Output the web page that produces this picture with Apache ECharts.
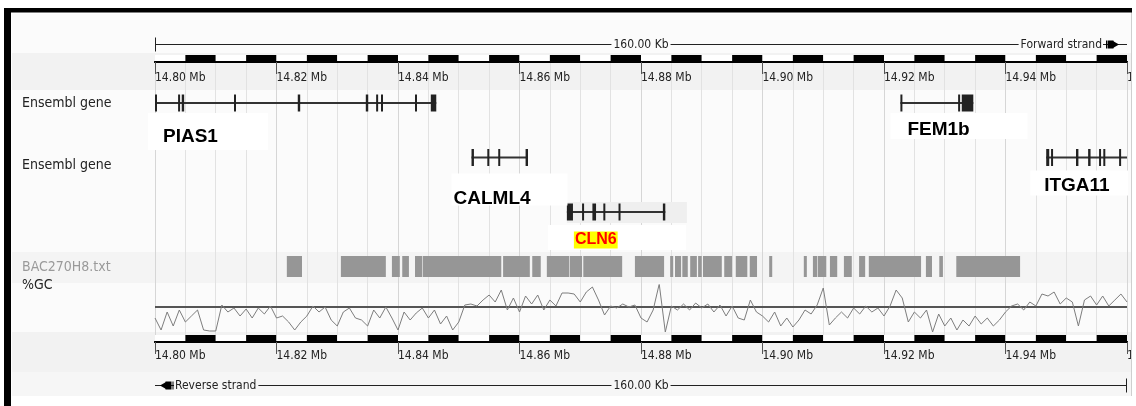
<!DOCTYPE html>
<html><head><meta charset="utf-8">
<script src="https://cdn.jsdelivr.net/npm/echarts@6/dist/echarts.min.js"></script>
<style>html,body{margin:0;padding:0;background:#fff}#c{width:1136px;height:406px}</style>
</head><body><div id="c"></div>
<script>
// ---------------- DATA ----------------
const regionStartMb = 14.80;
const regionEndMb = 14.96;
const tickLabels = ['14.80 Mb','14.82 Mb','14.84 Mb','14.86 Mb','14.88 Mb','14.90 Mb','14.92 Mb','14.94 Mb','14.96 Mb'];
const trackLabels = ['Ensembl gene','Ensembl gene','BAC270H8.txt','%GC'];

const geneNames  = ['PIAS1','FEM1b','CALML4','CLN6','ITGA11'];
const geneRows   = [0, 0, 1, 2, 1];
const geneStarts = [14.8000, 14.9227, 14.8521, 14.8678, 14.9467];
const geneEnds   = [14.8463, 14.9347, 14.8614, 14.8840, 14.9600];
const geneExons = [
  [[14.8000,14.8003],[14.8038,14.8041],[14.8044,14.8048],[14.8130,14.8133],[14.8235,14.8239],[14.8347,14.8351],[14.8364,14.8367],[14.8372,14.8375],[14.8428,14.8431],[14.8454,14.8463]],
  [[14.9227,14.9230],[14.9322,14.9325],[14.9328,14.9347]],
  [[14.8521,14.8525],[14.8547,14.8550],[14.8565,14.8568],[14.8610,14.8614]],
  [[14.8678,14.8688],[14.8703,14.8706],[14.8720,14.8726],[14.8738,14.8741],[14.8763,14.8766],[14.8836,14.8840]],
  [[14.9467,14.9472],[14.9475,14.9478],[14.9516,14.9520],[14.9536,14.9540],[14.9554,14.9557],[14.9561,14.9564],[14.9587,14.9590]]
];

const bacStarts = [14.8217,14.8306,14.8390,14.8407,14.8428,14.8441,14.8573,14.8621,14.8645,14.8683,14.8705,14.8790,14.8848,14.8856,14.8868,14.8881,14.8894,14.8902,14.8937,14.8956,14.8979,14.9011,14.9068,14.9083,14.9091,14.9111,14.9134,14.9159,14.9175,14.9269,14.9291,14.9319];
const bacEnds   = [14.8242,14.8380,14.8403,14.8418,14.8440,14.8570,14.8617,14.8635,14.8682,14.8703,14.8769,14.8838,14.8853,14.8866,14.8877,14.8892,14.8900,14.8933,14.8950,14.8975,14.8991,14.9016,14.9073,14.9090,14.9105,14.9123,14.9147,14.9169,14.9261,14.9279,14.9297,14.9424];

const gcStepKb = 1;
const gcMeanLine = 40;
const gcValues = [
 34.5,28.5,37.5,30.5,38.5,32.5,35.5,38.5,28.5,28,28,41,37.5,39.5,35.5,39,34.5,39.5,36.5,40.5,
 34.5,35.5,32.5,28.5,32.5,35.5,40.5,37.5,40,33.5,30.5,37.5,39.5,34.5,33.5,30.5,38.5,34.5,40,34.5,
 28.5,37.5,33.5,37,39.5,34.5,38.5,31.5,35.5,28.5,32.5,41,41.5,40.5,43.5,46,42.5,48.5,38.5,44.5,
 37.5,45.5,41.5,46,38.5,43.5,40.5,47,47,46.5,42.5,47.5,50,43.5,36,40.5,39.5,41.5,40,41,
 34.5,32.5,38.5,51.5,27.5,40.5,38.5,41.5,38.5,42,39.5,41.5,37.5,41,35.5,40.5,34.5,33.5,43.5,37.5,
 35.5,32.5,37.5,30.5,34.5,30,33.5,38.5,36.5,41,49.5,31,34.5,37.5,34.5,39.5,36.5,40.5,37.5,39.5,
 35.5,40.5,48.5,44.5,32.5,37.5,34.5,38.5,27.5,36.5,30.5,34.5,28.5,33.5,30.5,35.5,31.5,34.5,30.5,33.5,
 37.5,40.5,41.5,38.5,42.5,40.5,46.5,45.5,47.5,41.5,44.5,42.5,30.5,43.5,45.5,41,45.5,40.5,43.5,46.5,
 42.5
];

// ---------------- STYLE / LAYOUT ----------------
const condensed = "'DejaVu Sans Condensed','DejaVu Sans',sans-serif";
const boldSans = "'Liberation Sans',Arial,sans-serif";
const L = 155, R = 9;
const labelLayout = {
  PIAS1:  {box:[-7,10,120,37],  text:[8,34],  size:19},
  FEM1b:  {box:[-10,10,137,26], text:[7,27],  size:19},
  CALML4: {box:[-20,16,116,32], text:[-18,41], size:19},
  CLN6:   {box:[-19,13,138,25], text:[7,28],  size:16, color:'#ff0000', bg:'#ffff00', shade:[0,-10,120,21]},
  ITGA11: {box:[-16,13,98,25],  text:[-2,28], size:19}
};

const tickFmt = v => { const i = Math.round((v - regionStartMb) / 0.02); return tickLabels[i] || ''; };
const spanText = ((regionEndMb - regionStartMb) * 1000).toFixed(2) + ' Kb';

function grid(top, height) { return {left: L, right: R, top: top, height: height, containLabel: false, outerBoundsMode: 'none'}; }
function hiddenX(gi) { return {type:'value', gridIndex: gi, min: regionStartMb, max: regionEndMb, show: false}; }
function hiddenY(gi, min, max) { return {type:'value', gridIndex: gi, min: min, max: max, show: false}; }

function barTopAxis(gi) {
  return {type:'value', gridIndex: gi, position:'top', min: regionStartMb, max: regionEndMb, interval: 0.005,
    axisLine:{show:true, lineStyle:{color:'#000', width:2}}, axisTick:{show:false}, axisLabel:{show:false},
    splitLine:{show:false}, splitArea:{show:true, areaStyle:{color:['#ffffff','#000000']}}};
}
function barBottomAxis(gi, margin) {
  return {type:'value', gridIndex: gi, position:'bottom', min: regionStartMb, max: regionEndMb, interval: 0.02,
    axisLine:{show:true, lineStyle:{color:'#000', width:2}},
    axisTick:{show:true, length:12, lineStyle:{color:'#555', width:1}},
    axisLabel:{show:true, formatter: tickFmt, align:'left', margin: margin, color:'#222',
      fontFamily: condensed, fontSize: 12, showMinLabel:true, showMaxLabel:true, hideOverlap:false},
    splitLine:{show:false}};
}

const chart = echarts.init(document.getElementById('c'), null, {renderer:'canvas'});

const geneData = geneNames.map((n, i) => [geneStarts[i], geneEnds[i], geneRows[i], i]);
const bacData = bacStarts.map((s, i) => [s, bacEnds[i]]);
const gcData = gcValues.map((v, i) => [regionStartMb + i * gcStepKb / 1000, v]);

function renderGene(params, api) {
  const i = api.value(3);
  const row = api.value(2);
  const s = api.coord([api.value(0), row]);
  const e = api.coord([api.value(1), row]);
  const y = s[1];
  const children = [];
  const lay = labelLayout[geneNames[i]];
  if (lay.shade) {
    children.push({type:'rect', shape:{x:s[0]+lay.shade[0], y:y+lay.shade[1], width:lay.shade[2], height:lay.shade[3]}, style:{fill:'#efefef'}});
  }
  children.push({type:'line', shape:{x1:s[0], y1:y, x2:e[0], y2:y}, style:{stroke:'#333', lineWidth:2}});
  geneExons[i].forEach(ex => {
    const a = api.coord([ex[0], row])[0], b = api.coord([ex[1], row])[0];
    children.push({type:'rect', shape:{x:a, y:y-8.5, width:Math.max(2, b-a), height:17}, style:{fill:'#222'}});
  });
  return {type:'group', children: children};
}

function renderGeneLabel(params, api) {
  const i = api.value(3);
  const row = api.value(2);
  const s = api.coord([api.value(0), row]);
  const lay = labelLayout[geneNames[i]];
  const children = [
    {type:'rect', shape:{x:s[0]+lay.box[0], y:s[1]+lay.box[1], width:lay.box[2], height:lay.box[3]}, style:{fill:'#ffffff'}},
    {type:'text', style:{text: geneNames[i], x: s[0]+lay.text[0], y: s[1]+lay.text[1],
      font: 'bold ' + lay.size + 'px ' + boldSans, fill: lay.color || '#000', align:'left', verticalAlign:'middle',
      backgroundColor: lay.bg || 'transparent', padding: lay.bg ? [1,1,0,1] : 0}}
  ];
  return {type:'group', children: children};
}

function renderBac(params, api) {
  const a = api.coord([api.value(0), 1]);
  const b = api.coord([api.value(1), 0]);
  return {type:'rect', shape:{x:a[0], y:a[1], width:Math.max(2.5, b[0]-a[0]), height:b[1]-a[1]}, style:{fill:'#969696'}};
}

function renderRuler(forward) {
  return function(params, api) {
    const s = api.coord([api.value(0), 0.5]);
    const e = api.coord([api.value(1), 0.5]);
    const y = Math.round(s[1]) + 0.5;
    const mid = (s[0] + e[0]) / 2;
    const font = '12px ' + condensed;
    const ch = [{type:'line', shape:{x1:s[0], y1:y, x2:e[0], y2:y}, style:{stroke:'#222', lineWidth:1}}];
    if (forward) {
      ch.push({type:'line', shape:{x1:s[0]+0.5, y1:y-7, x2:s[0]+0.5, y2:y+7}, style:{stroke:'#222', lineWidth:1}});
      ch.push({type:'text', style:{text:'Forward strand', x:e[0]-24, y:y, font:font, fill:'#222', align:'right', verticalAlign:'middle', backgroundColor:'#fbfbfb', padding:[0,1,0,2]}});
      ch.push({type:'rect', shape:{x:e[0]-21, y:y-4, width:1, height:8}, style:{fill:'#000'}});
      ch.push({type:'rect', shape:{x:e[0]-19.5, y:y-4, width:6, height:8}, style:{fill:'#000'}});
      ch.push({type:'polygon', shape:{points:[[e[0]-14,y-3.5],[e[0]-8,y],[e[0]-14,y+3.5]]}, style:{fill:'#000'}});
    } else {
      ch.push({type:'line', shape:{x1:e[0]-0.5, y1:y-7, x2:e[0]-0.5, y2:y+7}, style:{stroke:'#222', lineWidth:1}});
      ch.push({type:'polygon', shape:{points:[[s[0]+11,y-3.5],[s[0]+5,y],[s[0]+11,y+3.5]]}, style:{fill:'#000'}});
      ch.push({type:'rect', shape:{x:s[0]+10.5, y:y-4, width:6, height:8}, style:{fill:'#000'}});
      ch.push({type:'rect', shape:{x:s[0]+17.5, y:y-4, width:1, height:8}, style:{fill:'#000'}});
      ch.push({type:'text', style:{text:'Reverse strand', x:s[0]+19, y:y, font:font, fill:'#222', align:'left', verticalAlign:'middle', backgroundColor:'#f6f6f6', padding:[0,2,0,1]}});
    }
    ch.push({type:'text', style:{text:spanText, x:mid, y:y, font:font, fill:'#222', align:'center', verticalAlign:'middle', backgroundColor: forward ? '#fbfbfb' : '#f6f6f6', padding:[0,2]}});
    return {type:'group', children: ch};
  };
}

// background bands and frame
const bands = [[14,53,'#fbfbfb'],[53,90,'#f2f2f2'],[90,252,'#fbfbfb'],[252,283,'#f4f4f4'],[283,332,'#fbfbfb'],[332,372,'#f2f2f2'],[372,396,'#f6f6f6']];
const graphics = bands.map(b => ({type:'rect', z:-20, shape:{x:12, y:b[0], width:1119, height:b[1]-b[0]}, style:{fill:b[2]}}));
const labelYs = [103, 165, 267, 285];
trackLabels.forEach((t, i) => graphics.push({type:'text', z:50, style:{text:t, x:22, y:labelYs[i], font:'14px ' + condensed, fill: i === 2 ? '#9a9a9a' : '#222', verticalAlign:'middle'}}));
graphics.push({type:'rect', z:100, shape:{x:1131, y:0, width:10, height:406}, style:{fill:'#ffffff'}});
graphics.push({type:'rect', z:101, shape:{x:1131, y:12, width:1, height:384}, style:{fill:'#cfcfcf'}});
graphics.push({type:'rect', z:101, shape:{x:4, y:8, width:1128, height:4.5}, style:{fill:'#000'}});
graphics.push({type:'rect', z:101, shape:{x:4, y:8, width:7, height:398}, style:{fill:'#000'}});

const option = {
  animation: false,
  backgroundColor: '#ffffff',
  graphic: graphics,
  grid: [grid(62, 273), grid(55, 7), grid(75.75, 163.5), grid(256, 21), grid(285, 48), grid(335, 7), grid(37, 14), grid(378, 14)],
  xAxis: [
    {type:'value', gridIndex:0, position:'bottom', min:regionStartMb, max:regionEndMb, interval:0.005,
      axisLine:{show:false}, axisTick:{show:false}, axisLabel:{show:false}, splitLine:{show:true, lineStyle:{color:'#e2e2e2', width:1}}},
    {type:'value', gridIndex:0, position:'top', min:regionStartMb, max:regionEndMb, interval:0.02,
      axisLine:{show:false}, axisTick:{show:false}, axisLabel:{show:false}, splitLine:{show:true, lineStyle:{color:'#d6d6d6', width:1}}},
    barTopAxis(1), barBottomAxis(1, 10),
    hiddenX(2), hiddenX(3), hiddenX(4),
    barTopAxis(5), barBottomAxis(5, 8),
    hiddenX(6), hiddenX(7)
  ],
  yAxis: [
    hiddenY(0, 0, 1), hiddenY(1, 0, 1),
    {type:'category', gridIndex:2, data:['row1','row2','row3'], inverse:true, show:false},
    hiddenY(3, 0, 1), hiddenY(4, 27, 51), hiddenY(5, 0, 1), hiddenY(6, 0, 1), hiddenY(7, 0, 1)
  ],
  series: [
    {type:'custom', name:'genes', xAxisIndex:4, yAxisIndex:2, data: geneData, renderItem: renderGene, z:5, clip:false},
    {type:'custom', name:'geneLabels', xAxisIndex:4, yAxisIndex:2, data: geneData, renderItem: renderGeneLabel, z:6, clip:false},
    {type:'custom', name:'BAC270H8', xAxisIndex:5, yAxisIndex:3, data: bacData, renderItem: renderBac, z:5},
    {type:'line', name:'%GC', xAxisIndex:6, yAxisIndex:4, data: gcData, showSymbol:false, symbol:'none',
      lineStyle:{color:'#7d7d7d', width:1}, z:5,
      markLine:{silent:true, symbol:'none', label:{show:false}, lineStyle:{color:'#555', width:2, type:'solid'}, data:[{yAxis: gcMeanLine}]}},
    {type:'custom', name:'rulerTop', xAxisIndex:9, yAxisIndex:6, data:[[regionStartMb, regionEndMb]], renderItem: renderRuler(true), z:5, clip:false},
    {type:'custom', name:'rulerBottom', xAxisIndex:10, yAxisIndex:7, data:[[regionStartMb, regionEndMb]], renderItem: renderRuler(false), z:5, clip:false}
  ]
};
chart.setOption(option);
</script></body></html>
